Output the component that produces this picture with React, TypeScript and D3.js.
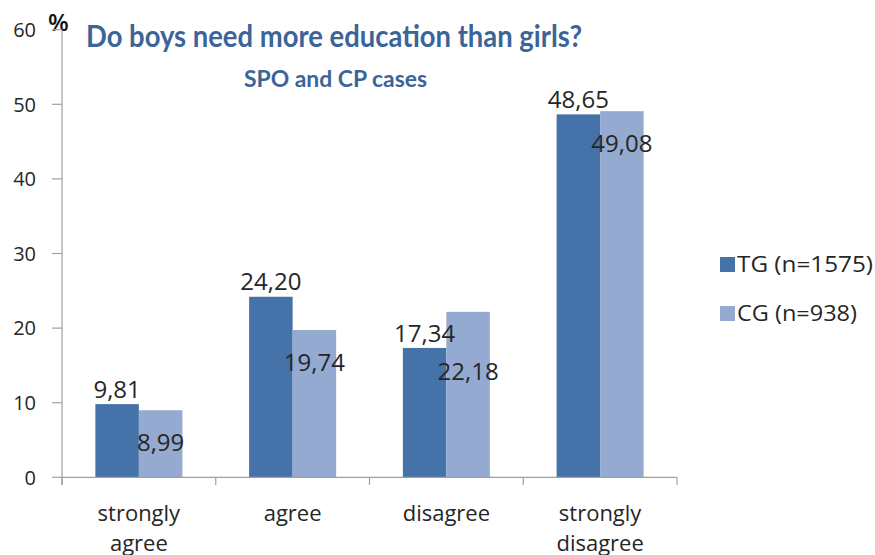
import React from "react";
import * as d3 from "d3";

const categories: string[][] = [["strongly", "agree"], ["agree"], ["disagree"], ["strongly", "disagree"]];
const seriesNames = ["TG (n=1575)", "CG (n=938)"];
const tgValues = [9.81, 24.2, 17.34, 48.65];
const cgValues = [8.99, 19.74, 22.18, 49.08];
const yTicks = [0, 10, 20, 30, 40, 50, 60];
const colors = ["#4572A8", "#95AAD1"];

const W = 875;
const H = 555;
const fmt = (v: number) => v.toFixed(2).replace(".", ",");

export default function App() {
  const catKeys = categories.map((c) => c.join(" "));
  const x0 = d3.scaleBand<string>().domain(catKeys).range([62, 677]).paddingInner(0).paddingOuter(0);
  const x1 = d3
    .scaleBand<string>()
    .domain(seriesNames)
    .range([0, x0.bandwidth()])
    .paddingInner(0)
    .paddingOuter(0.767);
  const y = d3.scaleLinear().domain([0, 60]).range([477.3, 29.7]);
  const axisColor = "#A0A0A0";
  const textColor = "#262626";
  const series = [tgValues, cgValues];

  return (
    <svg
      width={W}
      height={H}
      viewBox={`0 0 ${W} ${H}`}
      style={{ position: "absolute", left: 0, top: 0, background: "#fff", display: "block" }}
    >
      <rect x={0} y={0} width={W} height={H} fill="#fff" />
      {/* Title */}
      <text
        x={334}
        y={47}
        textAnchor="middle"
        fontFamily="Lato"
        fontWeight={700}
        fontSize={31}
        fill="#3B6599"
        textLength={496}
        lengthAdjust="spacingAndGlyphs"
      >
        Do boys need more education than girls?
      </text>
      <text
        x={335.5}
        y={87}
        textAnchor="middle"
        fontFamily="Lato"
        fontWeight={700}
        fontSize={23.5}
        fill="#3B6599"
        textLength={183}
        lengthAdjust="spacingAndGlyphs"
      >
        SPO and CP cases
      </text>
      {/* % label */}
      <text x={48} y={31} fontFamily="Open Sans" fontSize={24} fontWeight={600} fill="#111">
        %
      </text>

      {/* Y axis */}
      <line x1={62} x2={62} y1={y(60)} y2={485} stroke={axisColor} strokeWidth={1.2} />
      {yTicks.map((t) => (
        <g key={t}>
          <line x1={52} x2={62} y1={y(t)} y2={y(t)} stroke={axisColor} strokeWidth={1.2} />
          <text
            x={36}
            y={y(t)}
            dy="0.36em"
            textAnchor="end"
            fontFamily="Open Sans"
            fontSize={20}
            fill={textColor}
          >
            {t}
          </text>
        </g>
      ))}

      {/* Bars */}
      {catKeys.map((ck, i) => (
        <g key={ck} transform={`translate(${x0(ck)},0)`}>
          {series.map((vals, s) => (
            <rect
              key={s}
              x={x1(seriesNames[s])}
              y={y(vals[i])}
              width={x1.bandwidth()}
              height={y(0) - y(vals[i])}
              fill={colors[s]}
            />
          ))}
        </g>
      ))}

      {/* X axis */}
      <line x1={62} x2={677} y1={y(0)} y2={y(0)} stroke={axisColor} strokeWidth={1.2} />
      {[...catKeys.map((ck) => x0(ck) as number), 677].map((xv, i) => (
        <line key={i} x1={xv} x2={xv} y1={y(0)} y2={485} stroke={axisColor} strokeWidth={1.2} />
      ))}

      {/* Data labels */}
      {catKeys.map((ck, i) => {
        const bx = x0(ck) as number;
        const darkCy = y(tgValues[i]) - 15;
        let lightCy = y(cgValues[i]) + 32;
        if (Math.abs(lightCy - darkCy) < 25) lightCy = darkCy + 38;
        return (
          <g key={ck}>
            <text
              x={bx + (x1(seriesNames[0]) as number) + x1.bandwidth() / 2}
              y={darkCy}
              dy="0.36em"
              textAnchor="middle"
              fontFamily="Open Sans"
              fontSize={24}
              fill={textColor}
            >
              {fmt(tgValues[i])}
            </text>
            <text
              x={bx + (x1(seriesNames[1]) as number) + x1.bandwidth() / 2}
              y={lightCy}
              dy="0.36em"
              textAnchor="middle"
              fontFamily="Open Sans"
              fontSize={24}
              fill={textColor}
            >
              {fmt(cgValues[i])}
            </text>
          </g>
        );
      })}

      {/* Category labels */}
      {categories.map((lines, i) => {
        const cx = (x0(catKeys[i]) as number) + x0.bandwidth() / 2;
        return (
          <text key={i} textAnchor="middle" fontFamily="Open Sans" fontSize={22} fill={textColor}>
            {lines.map((ln, j) => (
              <tspan key={j} x={cx} y={521 + j * 30}>
                {ln}
              </tspan>
            ))}
          </text>
        );
      })}

      {/* Legend */}
      {seriesNames.map((name, s) => (
        <g key={name}>
          <rect x={720} y={257 + s * 49} width={15} height={15} fill={colors[s]} />
          <text
            x={737}
            y={271.7 + s * 49}
            fontFamily="Open Sans"
            fontSize={21.5}
            fill={textColor}
            textLength={s === 0 ? 136 : 120}
            lengthAdjust="spacingAndGlyphs"
          >
            {name}
          </text>
        </g>
      ))}
    </svg>
  );
}
